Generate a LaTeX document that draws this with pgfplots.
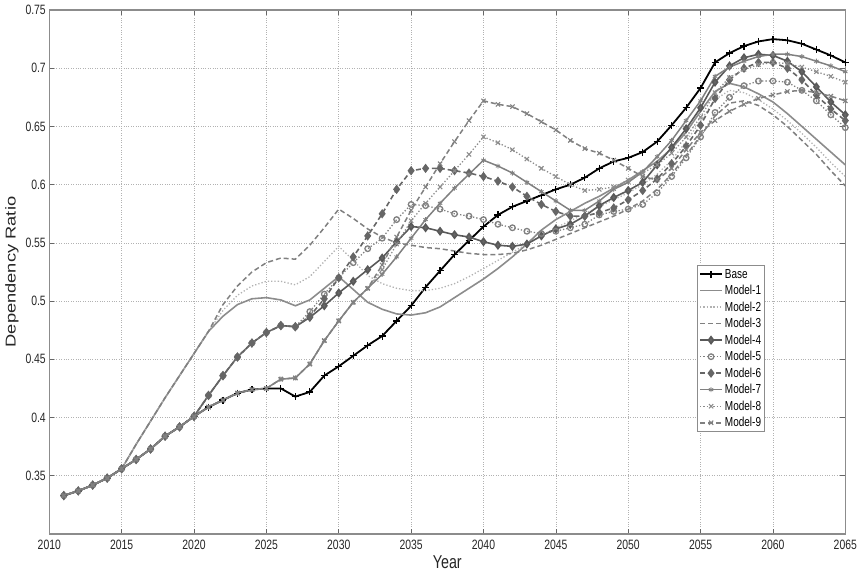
\documentclass[border=0pt]{standalone}
\usepackage{pgfplots}
\pgfplotsset{compat=1.18}
\usepackage{pgfplotstable}
\usepackage{fontspec}
\setmainfont{Liberation Sans}
\usepackage{graphicx}
\newcommand\vs[1]{\scalebox{1}[1.3]{#1}}
\newcommand\hs[1]{\scalebox{1.28}[1]{#1}}

\pgfplotstableread{
year B M1 M2 M3 M4 M5 M6 M7 M8 M9
2011 .333 .333 .333 .333 .333 .333 .333 .333 .333 .333
2012 .337 .337 .337 .337 .337 .337 .337 .337 .337 .337
2013 .342 .342 .342 .342 .342 .342 .342 .342 .342 .342
2014 .348 .348 .348 .348 .348 .348 .348 .348 .348 .348
2015 .356 .356 .356 .356 .356 .356 .356 .356 .356 .356
2016 .364 .377 .377 .377 .364 .364 .364 .364 .364 .364
2017 .373 .397 .397 .397 .373 .373 .373 .373 .373 .373
2018 .384 .417 .417 .417 .384 .384 .384 .384 .384 .384
2019 .392 .436 .436 .436 .392 .392 .392 .392 .392 .392
2020 .401 .455 .455 .455 .401 .401 .401 .401 .401 .401
2021 .409 .474 .474 .474 .419 .419 .419 .409 .409 .409
2022 .415 .487 .492 .497 .436 .436 .436 .415 .415 .415
2023 .421 .497 .505 .513 .452 .452 .452 .421 .421 .421
2024 .424 .502 .513 .525 .464 .464 .464 .424 .424 .424
2025 .425 .503 .517 .533 .473 .473 .473 .425 .425 .425
2026 .425 .501 .517 .537 .479 .479 .479 .433 .433 .433
2027 .418 .496 .514 .536 .478 .478 .478 .434 .434 .434
2028 .422 .501 .521 .548 .486 .491 .487 .446 .446 .446
2029 .436 .511 .534 .563 .496 .506 .502 .466 .466 .466
2030 .444 .521 .547 .579 .507 .520 .520 .483 .483 .483
2031 .453 .510 .535 .571 .517 .533 .538 .499 .499 .499
2032 .462 .499 .522 .562 .527 .545 .556 .511 .511 .511
2033 .470 .493 .515 .555 .537 .554 .575 .523 .527 .531
2034 .483 .489 .511 .550 .551 .570 .596 .538 .549 .555
2035 .496 .488 .509 .548 .564 .583 .612 .554 .569 .578
2036 .512 .490 .509 .546 .563 .582 .614 .570 .584 .598
2037 .526 .495 .511 .545 .560 .579 .614 .584 .598 .618
2038 .540 .503 .515 .543 .557 .575 .612 .597 .612 .637
2039 .552 .511 .521 .541 .555 .573 .610 .609 .626 .655
2040 .564 .519 .528 .540 .551 .570 .607 .621 .641 .672
2041 .574 .528 .535 .540 .548 .566 .603 .616 .636 .669
2042 .581 .538 .542 .541 .547 .563 .598 .610 .630 .667
2043 .586 .549 .549 .544 .549 .560 .590 .602 .622 .661
2044 .591 .561 .556 .548 .556 .558 .583 .594 .614 .654
2045 .596 .570 .563 .553 .562 .560 .577 .586 .607 .647
2046 .600 .577 .569 .558 .566 .563 .573 .578 .600 .638
2047 .606 .584 .575 .563 .573 .566 .573 .578 .595 .631
2048 .614 .590 .581 .568 .582 .574 .576 .586 .596 .627
2049 .620 .597 .587 .573 .589 .577 .580 .596 .598 .621
2050 .623 .604 .593 .579 .595 .579 .587 .602 .604 .614
2051 .628 .612 .600 .586 .602 .583 .595 .611 .610 .607
2052 .637 .620 .609 .596 .617 .593 .605 .624 .617 .604
2053 .651 .631 .621 .609 .632 .607 .618 .638 .627 .614
2054 .666 .645 .637 .625 .648 .623 .633 .655 .641 .630
2055 .683 .663 .655 .642 .666 .641 .651 .672 .658 .645
2056 .705 .680 .673 .659 .688 .662 .674 .693 .679 .655
2057 .713 .687 .681 .670 .702 .675 .690 .701 .692 .663
2058 .719 .684 .679 .672 .709 .685 .700 .706 .699 .669
2059 .723 .678 .673 .668 .712 .689 .705 .710 .703 .674
2060 .725 .671 .665 .660 .711 .689 .705 .712 .705 .677
2061 .724 .661 .655 .650 .706 .688 .700 .712 .704 .680
2062 .721 .650 .644 .638 .697 .681 .690 .710 .701 .681
2063 .716 .639 .632 .626 .684 .672 .677 .706 .697 .679
2064 .711 .628 .619 .612 .671 .660 .665 .702 .693 .676
2065 .705 .617 .607 .599 .660 .649 .655 .697 .688 .672
}\data

\begin{document}
\begin{tikzpicture}
\begin{axis}[name=ax, scale only axis, width=796pt, height=524pt,
  xmin=2010, xmax=2065, ymin=0.3, ymax=0.75,
  xtick={2010,2015,2020,2025,2030,2035,2040,2045,2050,2055,2060,2065},
  xticklabels={\vs{2010},\vs{2015},\vs{2020},\vs{2025},\vs{2030},\vs{2035},\vs{2040},\vs{2045},\vs{2050},\vs{2055},\vs{2060},\vs{2065}},
  ytick={0.35,0.4,0.45,0.5,0.55,0.6,0.65,0.7,0.75},
  yticklabels={\vs{0.35},\vs{0.4},\vs{0.45},\vs{0.5},\vs{0.55},\vs{0.6},\vs{0.65},\vs{0.7},\vs{0.75}},
  tick label style={font=\fontsize{10.4}{12}\selectfont, text=black!85},
  xticklabel style={yshift=-2.5pt},
  tick align=inside, major tick length=5pt,
  tick style={black!60, line width=0.6pt},
  axis line style={black!45, line width=1.5pt},
  grid=major, major grid style={black!30, dotted, line width=0.6pt},
  xlabel={\vs{Year}}, ylabel={\hs{Dependency Ratio}},
  xlabel style={yshift=1pt},
  label style={font=\fontsize{14.3}{16}\selectfont, text=black!85},
  legend style={at={(0.814,0.513)}, anchor=north west, draw=black!45, line width=0.8pt,
    font=\fontsize{10}{11}\selectfont, inner sep=1.5pt, row sep=1.6pt},
  legend cell align=left,
  legend image code/.code={\draw[mark repeat=2,mark phase=2,#1] plot coordinates {(0pt,0pt)(11pt,0pt)(22pt,0pt)};},
]
\addplot[black, line width=1.8pt, mark=+, mark size=3.5pt, mark options={solid, line width=1.2pt}] table[x=year,y=B]{\data};
\addlegendentry{\vs{Base}}
\addplot[black!45, line width=1.6pt] table[x=year,y=M1]{\data};
\addlegendentry{\vs{Model-1}}
\addplot[black!30, dotted, line width=1.3pt] table[x=year,y=M2]{\data};
\addlegendentry{\vs{Model-2}}
\addplot[black!50, dash pattern=on 5pt off 3pt, line width=1.5pt] table[x=year,y=M3]{\data};
\addlegendentry{\vs{Model-3}}
\addplot[black!65, line width=1.6pt, mark=diamond*, mark size=3.4pt, mark options={solid, fill=black!60}] table[x=year,y=M4]{\data};
\addlegendentry{\vs{Model-4}}
\addplot[black!50, dotted, line width=1.3pt, mark=o, mark size=2.8pt, mark options={solid, line width=1.3pt}] table[x=year,y=M5]{\data};
\addlegendentry{\vs{Model-5}}
\addplot[black!60, dash pattern=on 5pt off 3pt, line width=1.6pt, mark=diamond*, mark size=3.4pt, mark options={solid, fill=black!60}] table[x=year,y=M6]{\data};
\addlegendentry{\vs{Model-6}}
\addplot[black!50, line width=1.5pt, mark=asterisk, mark size=2.5pt, mark options={solid, line width=0.9pt}] table[x=year,y=M7]{\data};
\addlegendentry{\vs{Model-7}}
\addplot[black!45, dotted, line width=1.3pt, mark=x, mark size=3pt, mark options={solid, line width=1.1pt}] table[x=year,y=M8]{\data};
\addlegendentry{\vs{Model-8}}
\addplot[black!50, dash pattern=on 5pt off 3pt, line width=1.5pt, mark=x, mark size=3pt, mark options={solid, line width=1.1pt}] table[x=year,y=M9]{\data};
\addlegendentry{\vs{Model-9}}
\end{axis}
\pgfresetboundingbox
\path (ax.south west) ++(-49.3pt,-37pt) rectangle ++(859pt,571pt);
\end{tikzpicture}
\end{document}
